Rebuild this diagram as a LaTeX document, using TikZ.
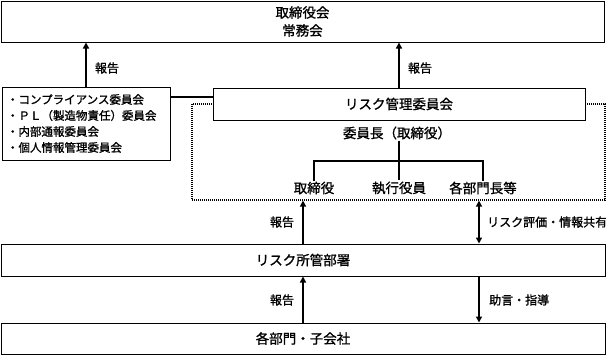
\documentclass[tikz,border=0pt]{standalone}
\usepackage{fontspec}
\newfontfamily\jpfont[RawFeature={embolden=1.2}]{Noto Sans CJK JP}
\usetikzlibrary{arrows.meta,positioning,calc}
\definecolor{ink}{HTML}{000000}
\tikzset{
  orgbox/.style={
    draw=ink,
    line width=1pt,
    fill=white,
    align=center,
    inner sep=2pt,
    font=\jpfont\fontsize{13.5}{18}\selectfont
  },
  listbox/.style={
    draw=ink,
    line width=1pt,
    fill=white,
    align=left,
    inner sep=5pt,
    font=\jpfont\fontsize{11.5}{16}\selectfont
  },
  panelbox/.style={
    draw=ink,
    dash pattern=on 1pt off 1pt,
    line width=1.2pt
  },
  headtext/.style={inner sep=1pt, font=\jpfont\fontsize{13.5}{16}\selectfont},
  notetext/.style={inner sep=1pt, font=\jpfont\fontsize{12}{14}\selectfont},
  flowarrow/.style={-{Triangle[length=6pt,width=6pt]},line width=2pt,draw=ink},
  twowayarrow/.style={{Triangle[length=6pt,width=6pt]}-{Triangle[length=6pt,width=6pt]},line width=2pt,draw=ink},
  treeline/.style={line width=2pt,draw=ink}
}
\begin{document}
\begin{tikzpicture}[x=1pt,y=-1pt]
  \useasboundingbox (0,0) rectangle (606,356);
  \node[panelbox, minimum width=413pt, minimum height=96pt] (panel) at (398.5,152) {};
  \node[orgbox, minimum width=603pt, minimum height=41pt] (board) at (302.5,21.5) {取締役会\\常務会};
  \node[listbox, text width=158pt, minimum height=73pt] (list) at (86,123.5)
    {・コンプライアンス委員会\\・ＰＬ（製造物責任）委員会\\・内部通報委員会\\・個人情報管理委員会};
  \node[orgbox, minimum width=372pt, minimum height=32pt] (cmte) at (399,104) {リスク管理委員会};
  \node[headtext] (chair) at (397,133) {委員長（取締役）};
  \node[headtext] (director) at (314,188) {取締役};
  \node[headtext] (officer) at (399,188) {執行役員};
  \node[headtext] (heads) at (483,188) {各部門長等};
  \coordinate (fork) at (399,161);
  \coordinate (share) at (479,0);
  \node[orgbox, minimum width=604pt, minimum height=32pt] (dept) at (303,260) {リスク所管部署};
  \node[orgbox, minimum width=604pt, minimum height=31pt] (units) at (303,338.5) {各部門・子会社};
  % reports upward
  \draw[flowarrow] (list.north) -- (list.north |- board.south);
  \node[notetext] (rep1) at (107,68) {報告};
  \draw[flowarrow] (cmte.north) -- (cmte.north |- board.south);
  \node[notetext] (rep2) at (420,68) {報告};
  \draw[treeline] ([yshift=7pt]cmte.west) -- ([yshift=7pt]cmte.west -| list.east);
  % committee members
  \draw[treeline] (fork |- chair.south) -- (officer.north);
  \draw[treeline] (director.north) -- (director.north |- fork) -- (heads.north |- fork) -- (heads.north);
  % department links
  \draw[flowarrow] (dept.north) -- (dept.north |- panel.south);
  \node[notetext] (rep3) at (282,222) {報告};
  \draw[twowayarrow] (share |- panel.south) -- (share |- dept.north);
  \node[notetext, anchor=west] (assess) at (486,222) {リスク評価・情報共有};
  \draw[flowarrow] (units.north) -- (dept.south);
  \node[notetext] (rep4) at (282,300) {報告};
  \draw[flowarrow] (share |- dept.south) -- (share |- units.north);
  \node[notetext, anchor=west] (advice) at (488,300) {助言・指導};
\end{tikzpicture}
\end{document}
